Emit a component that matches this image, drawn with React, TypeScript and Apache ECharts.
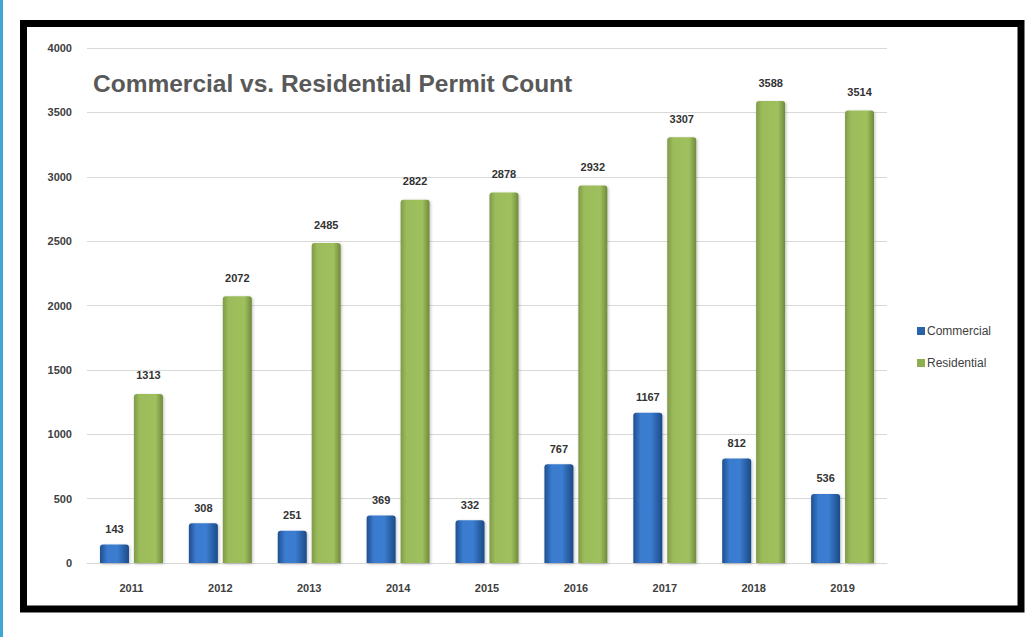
import React, { useEffect, useRef } from "react";
import * as echarts from "echarts";

const years = ["2011", "2012", "2013", "2014", "2015", "2016", "2017", "2018", "2019"];
const commercial = [143, 308, 251, 369, 332, 767, 1167, 812, 536];
const residential = [1313, 2072, 2485, 2822, 2878, 2932, 3307, 3588, 3514];

const FONT = "'Liberation Sans Narrow', 'Liberation Sans', Roboto, sans-serif";

export default function App() {
  const ref = useRef<HTMLDivElement>(null);
  useEffect(() => {
    if (!ref.current) return;
    const chart = echarts.init(ref.current, undefined, { renderer: "svg" });
    const blueGrad = new echarts.graphic.LinearGradient(0, 0, 1, 0, [
      { offset: 0, color: "#1f4f8f" },
      { offset: 0.25, color: "#3a7bcf" },
      { offset: 0.6, color: "#3b7dd0" },
      { offset: 1, color: "#1c4a86" },
    ]);
    const greenGrad = new echarts.graphic.LinearGradient(0, 0, 1, 0, [
      { offset: 0, color: "#7f9a48" },
      { offset: 0.2, color: "#9cbc5b" },
      { offset: 0.75, color: "#9fc05d" },
      { offset: 1, color: "#6f8a3c" },
    ]);
    chart.setOption({
      animation: false,
      backgroundColor: "#ffffff",
      textStyle: { fontFamily: FONT },
      title: {
        text: "Commercial vs. Residential Permit Count",
        left: 88,
        top: 66,
        textStyle: { fontFamily: FONT, fontSize: 24.5, fontWeight: "bold", color: "#595959" },
      },
      legend: {
        orient: "vertical",
        left: 912,
        top: 320,
        itemWidth: 8,
        itemHeight: 8,
        itemGap: 20,
        icon: "rect",
        textStyle: { fontFamily: FONT, fontSize: 12, color: "#404040", padding: [0, 0, 0, -3] },
        data: [
          { name: "Commercial", itemStyle: { color: "#2a62aa" } },
          { name: "Residential", itemStyle: { color: "#8cae4e" } },
        ],
      },
      grid: { left: 87, right: 145, top: 48, bottom: 74, containLabel: false },
      xAxis: {
        type: "category",
        data: years,
        axisLine: { show: true, lineStyle: { color: "#d9d9d9" } },
        axisTick: { show: false },
        axisLabel: { fontFamily: FONT, fontSize: 11, fontWeight: "bold", color: "#404040", margin: 19 },
      },
      yAxis: {
        type: "value",
        min: 0,
        max: 4000,
        interval: 500,
        axisLine: { show: false },
        axisTick: { show: false },
        splitLine: { lineStyle: { color: "#d9d9d9", width: 1 } },
        axisLabel: {
          fontFamily: FONT,
          fontSize: 11,
          fontWeight: "bold",
          color: "#404040",
          margin: 15,
          formatter: (v: number) => String(v),
        },
      },
      series: [
        {
          name: "Commercial",
          type: "bar",
          data: commercial,
          barWidth: 29,
          barGap: "17%",
          itemStyle: {
            color: blueGrad,
            borderRadius: [3, 3, 0, 0],
            shadowColor: "rgba(0,0,0,0.25)",
            shadowBlur: 3,
            shadowOffsetX: 1,
            shadowOffsetY: 1,
          },
          label: {
            show: true,
            position: "top",
            distance: 10,
            fontFamily: FONT,
            fontSize: 11,
            fontWeight: "bold",
            color: "#333",
          },
        },
        {
          name: "Residential",
          type: "bar",
          data: residential,
          barWidth: 29,
          itemStyle: {
            color: greenGrad,
            borderRadius: [3, 3, 0, 0],
            shadowColor: "rgba(0,0,0,0.25)",
            shadowBlur: 3,
            shadowOffsetX: 1,
            shadowOffsetY: 1,
          },
          label: {
            show: true,
            position: "top",
            distance: 13,
            fontFamily: FONT,
            fontSize: 11,
            fontWeight: "bold",
            color: "#333",
          },
        },
      ],
      graphic: [
        {
          type: "rect",
          left: 0,
          top: 0,
          shape: { width: 3, height: 637 },
          style: { fill: "#3fa6d6" },
          silent: true,
        },
        {
          type: "rect",
          shape: { x: 23.5, y: 23.5, width: 997.5, height: 585.5 },
          style: { fill: "none", stroke: "#000", lineWidth: 7 },
          silent: true,
          z: 100,
        },
      ],
    });
    return () => chart.dispose();
  }, []);
  return (
    <div
      ref={ref}
      style={{ position: "fixed", left: 0, top: 0, width: 1032, height: 637, background: "#fff" }}
    />
  );
}
